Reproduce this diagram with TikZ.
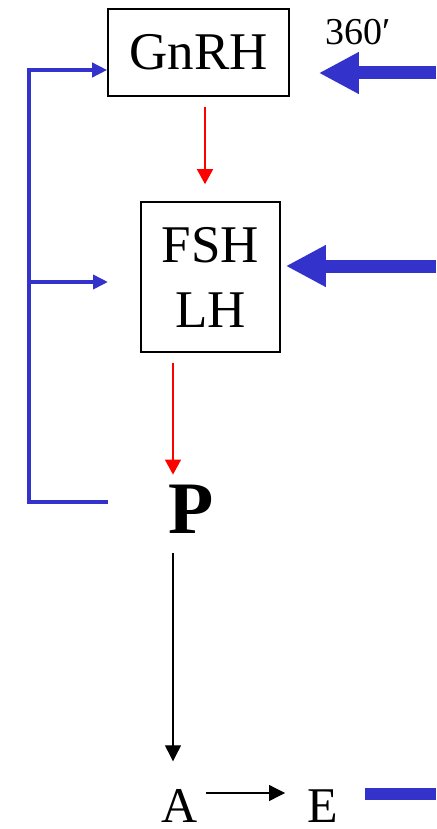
\documentclass[tikz,border=0pt]{standalone}
\usepackage{fontspec}
\setmainfont{Liberation Serif}
\usetikzlibrary{positioning, arrows.meta}
\definecolor{fbblue}{RGB}{51,51,204}

\begin{document}
\begin{tikzpicture}[x=1pt, y=-1pt,
        hormone/.style={draw, line width=1.6pt, inner sep=0pt, align=center, font=\fontsize{53}{65}\selectfont},
        lbl/.style={inner sep=0pt, font=\fontsize{50}{60}\selectfont},
        redarr/.style={red, line width=1.6pt, -{Triangle[length=15pt, width=16pt]}},
        blackarr/.style={black, line width=1.2pt, -{Triangle[length=16pt, width=16pt]}},
        fbline/.style={fbblue, line width=3.6pt},
        fbarr/.style={fbline, -{Triangle[length=15pt, width=14pt]}},
        bigarr/.style={fbblue, line width=13pt, -{Triangle[length=40pt, width=39pt]}},
    ]
    \useasboundingbox (0, 0) rectangle (436, 829);

    % Boxes
    \node[hormone, minimum width=181pt, minimum height=87pt] (gnrh) at (198.5, 52.5) {GnRH};
    \node[hormone, minimum width=139pt, minimum height=150pt] (fsh) at (210.5, 277) {FSH\\LH};

    % Gland and targets
    \node[inner sep=0pt, font=\fontsize{74}{80}\selectfont\bfseries] (p) at (191, 509) {P};
    \node[lbl] (a) at (179.5, 806) {A};
    \node[lbl] (e) at (322.5, 806) {E};
    \node[inner sep=0pt, font=\fontsize{38}{40}\selectfont] (rate) at (358, 32) {360\char"2032};

    % Stimulation
    \draw[redarr, shorten <=10pt, shorten >=17pt] ([xshift=6.5pt]gnrh.south) -- ([xshift=-5.5pt]fsh.north);
    \draw[redarr, shorten <=10pt, shorten >=10pt] ([xshift=-37.5pt]fsh.south) -- ([xshift=-18pt]p.north);
    \draw[blackarr, shorten <=20pt, shorten >=28pt] ([xshift=-18pt]p.south) -- ([xshift=-6.5pt]a.north);
    \draw[blackarr] ([xshift=8pt, yshift=13pt]a.east) -- ([xshift=-22pt, yshift=13pt]e.west);

    % Feedback loop
    \coordinate (fbstart) at (108, 502);
    \coordinate (fbmid) at (108, 282);
    \draw[fbarr] (fbstart) -- (29, 502) -- (29, 70) -- ([yshift=-17.5pt]gnrh.west);
    \draw[fbarr] (29, 282) -- (fbmid);

    % Outside inputs
    \coordinate (intop) at (436, 73);
    \coordinate (inmid) at (436, 266);
    \coordinate (outlow) at (365, 794);
    \draw[bigarr, shorten >=29pt] (intop) -- (gnrh.east |- intop);
    \draw[bigarr, shorten >=5pt] (inmid) -- (fsh.east |- inmid);
    \draw[fbblue, line width=12pt] (outlow) -- (436, 794);

\end{tikzpicture}
\end{document}
